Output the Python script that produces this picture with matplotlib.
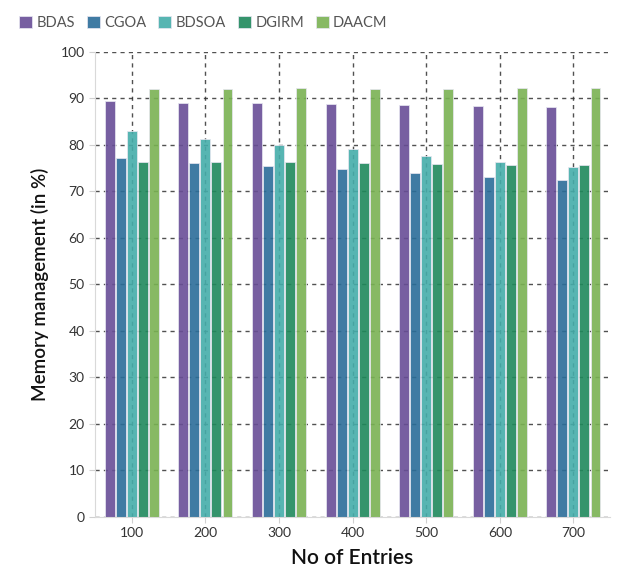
import numpy as np
import matplotlib
matplotlib.use("Agg")
import matplotlib.pyplot as plt

plt.rcParams["font.family"] = ["Lato", "DejaVu Sans"]

entries = ["100", "200", "300", "400", "500", "600", "700"]
methods = ["BDAS", "CGOA", "BDSOA", "DGIRM", "DAACM"]
bdas = [89.4, 89.1, 88.9, 88.8, 88.6, 88.4, 88.2]
cgoa = [77.2, 76.2, 75.4, 74.9, 74.0, 73.2, 72.4]
bdsoa = [82.9, 81.2, 80.0, 79.1, 77.6, 76.4, 75.2]
dgirm = [76.4, 76.4, 76.4, 76.0, 75.9, 75.7, 75.6]
daacm = [92.1, 92.1, 92.2, 92.1, 92.1, 92.2, 92.2]
colors = ["#684e97", "#2b6d99", "#45adaa", "#1f895c", "#7ab253"]

series = [bdas, cgoa, bdsoa, dgirm, daacm]

fig = plt.figure(figsize=(6.17, 5.70), dpi=100)
ax = fig.add_axes([0.154, 0.093, 0.835, 0.816])

x = np.arange(len(entries))
slot = 0.15
for i, (vals, col, name) in enumerate(zip(series, colors, methods)):
    ax.bar(x + (i - 2) * slot, vals, width=slot * 0.9, color=col,
           edgecolor="#e6e6f0", linewidth=0.6, alpha=0.9, label=name, zorder=2)

ax.set_xlim(-0.5, len(entries) - 0.5)
ax.set_ylim(0, 100)
ax.set_yticks(np.arange(0, 101, 10))
ax.set_xticks(x)
ax.set_xticklabels(entries)

ax.grid(True, color="#333333", linestyle=(0, (3, 3)), linewidth=1.0, alpha=0.85)
ax.set_axisbelow(True)

for s in ["top", "right"]:
    ax.spines[s].set_visible(False)
for s in ["left", "bottom"]:
    ax.spines[s].set_color("#d9d9d9")
ax.tick_params(colors="#d0d0d0", labelcolor="#333333", labelsize=10, length=4)

ax.set_xlabel("No of Entries", fontsize=15, fontweight="semibold", color="#111111", labelpad=6)
ax.set_ylabel("Memory management (in %)", fontsize=13.5, fontweight="semibold",
              color="#111111", labelpad=8)

leg = fig.legend(loc="upper left", bbox_to_anchor=(0.01, 0.995), ncol=5, frameon=False,
                 fontsize=10.5, handlelength=0.9, handleheight=0.9, handletextpad=0.3,
                 columnspacing=0.8, labelcolor="#555555")

fig.savefig("out.png", dpi=100)
